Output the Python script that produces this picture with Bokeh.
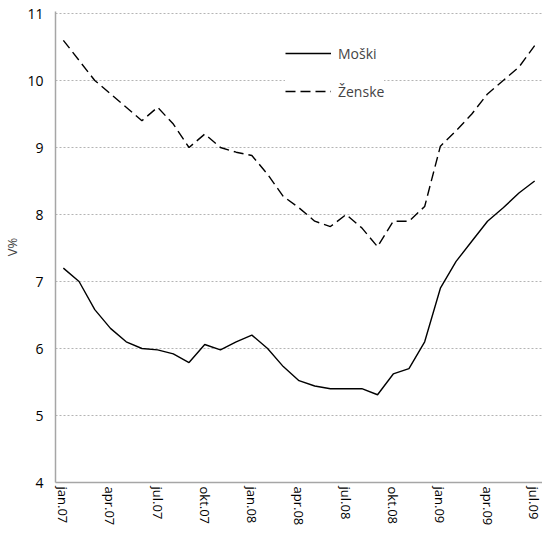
from bokeh.plotting import figure
from bokeh.models import FixedTicker, Legend, LegendItem
from bokeh.embed import file_html
from bokeh.resources import INLINE

tick_labels = ["jan.07", "apr.07", "jul.07", "okt.07", "jan.08", "apr.08",
               "jul.08", "okt.08", "jan.09", "apr.09", "jul.09"]
month_index = list(range(31))
moski = [7.2, 7.0, 6.58, 6.3, 6.1, 6.0, 5.98, 5.92, 5.79, 6.06, 5.98, 6.1,
         6.2, 6.0, 5.73, 5.52, 5.44, 5.4, 5.4, 5.4, 5.31, 5.62, 5.7, 6.1,
         6.9, 7.3, 7.6, 7.9, 8.1, 8.32, 8.5]
zenske = [10.6, 10.3, 10.0, 9.8, 9.6, 9.4, 9.6, 9.35, 9.0, 9.2, 9.0, 8.93,
          8.88, 8.6, 8.27, 8.1, 7.9, 7.82, 8.0, 7.8, 7.52, 7.9, 7.9, 8.12,
          9.02, 9.25, 9.5, 9.8, 10.0, 10.2, 10.52]

FONT = "Open Sans"

p = figure(width=542, height=528, output_backend="svg", toolbar_location=None,
           x_range=(-0.5, 30.5), y_range=(4, 11.03),
           min_border_top=11, min_border_left=47, min_border_right=0,
           min_border_bottom=10)
p.outline_line_color = None

r1 = p.line(month_index, moski, line_color="black", line_width=1.4)
r2 = p.line(month_index, zenske, line_color="black", line_width=1.4,
            line_dash="10 5")

# axes
p.xaxis.ticker = FixedTicker(ticks=list(range(0, 31, 3)))
p.xaxis.major_label_overrides = {i * 3: lab for i, lab in enumerate(tick_labels)}
p.xaxis.major_label_orientation = "vertical"
p.yaxis.ticker = FixedTicker(ticks=list(range(4, 12)))
for ax in (p.xaxis, p.yaxis):
    ax.axis_line_color = "#a6a6a6"
    ax.axis_line_width = 1.5
    ax.major_tick_line_color = None
    ax.minor_tick_line_color = None
    ax.major_tick_in = 0
    ax.major_tick_out = 0
    ax.minor_tick_in = 0
    ax.minor_tick_out = 0
    ax.major_label_text_font = FONT
    ax.major_label_text_color = "black"
p.xaxis.major_label_text_font_size = "13px"
p.yaxis.major_label_text_font_size = "14px"
p.xaxis.major_label_standoff = 4
p.yaxis.major_label_standoff = 12
p.yaxis.axis_label = "V%"
p.yaxis.axis_label_text_font = FONT
p.yaxis.axis_label_text_font_size = "13px"
p.yaxis.axis_label_text_font_style = "normal"
p.yaxis.axis_label_standoff = 3

p.xgrid.visible = False
p.ygrid.visible = True
p.ygrid.grid_line_color = "#b4b4b4"
p.ygrid.grid_line_alpha = 1.0
p.ygrid.grid_line_dash = "2 2"
p.ygrid.grid_line_width = 1

legend = Legend(items=[LegendItem(label="Moški", renderers=[r1]),
                       LegendItem(label="Ženske", renderers=[r2])],
                location=(230, 381), glyph_width=46, glyph_height=20,
                label_height=20, spacing=18, padding=5, label_standoff=7,
                border_line_color=None, background_fill_color="white",
                background_fill_alpha=1.0,
                label_text_font=FONT, label_text_font_size="14px")
p.add_layout(legend)

open("out.html", "w").write(file_html(p, INLINE))
